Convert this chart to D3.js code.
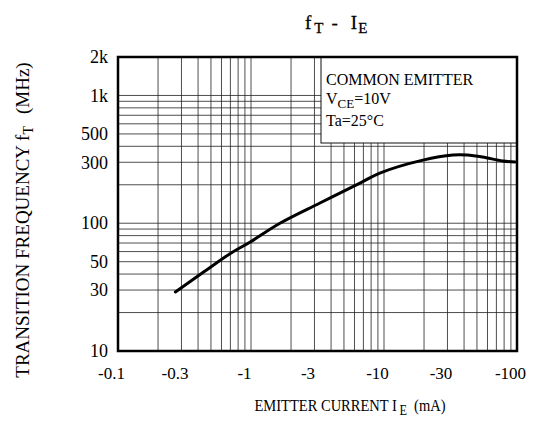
<!DOCTYPE html>
<html>
<head>
<meta charset="utf-8">
<script src="https://cdn.jsdelivr.net/npm/d3@7"></script>
<style>
  body { margin: 0; background: #fff; }
  svg text { font-family: "Liberation Serif", "Times New Roman", serif; fill: #000; }
</style>
</head>
<body>
<div id="chart"></div>
<script>
// emitter current magnitude (mA, plotted as negative) vs transition frequency (MHz)
var current = [0.27, 0.44, 0.7, 0.98, 1.65, 3.3, 6.6, 9.3, 19.6, 33, 42, 55, 78, 97];
var freq    = [29, 41.5, 58, 71, 100, 144, 206, 247, 312, 342, 342, 330, 307, 302];

var xTicks = [0.1, 0.3, 1, 3, 10, 30, 100];
var xTickLabels = ["-0.1", "-0.3", "-1", "-3", "-10", "-30", "-100"];
var yTicks = [10, 30, 50, 100, 300, 500, 1000, 2000];
var yTickLabels = ["10", "30", "50", "100", "300", "500", "1k", "2k"];

var legendLines = ["COMMON EMITTER", "VCE=10V", "Ta=25\u00B0C"];

var width = 536,
    height = 425,
    plotL = 118, plotR = 517, plotT = 57, plotB = 351;

var svg = d3.select('#chart').append('svg')
    .attr('width', width)
    .attr('height', height);

var x = d3.scaleLog().domain([0.1, 100]).range([plotL, plotR]);
var y = d3.scaleLog().domain([10, 2000]).range([plotB, plotT]);

// log grid values: 1..9 in every decade
function decades(lo, hi) {
    var out = [];
    for (var p = lo; p < hi; p *= 10) {
        for (var m = 1; m < 10; m++) out.push(+(m * p).toPrecision(3));
    }
    out.push(hi);
    return out;
}

var grid = svg.append('g').attr('class', 'grid')
    .attr('stroke', '#222')
    .attr('stroke-width', 0.8);

grid.selectAll('line.v')
    .data(decades(0.1, 100))
    .enter().append('line')
    .attr('class', 'v')
    .attr('x1', function(d) { return x(d); })
    .attr('x2', function(d) { return x(d); })
    .attr('y1', plotT)
    .attr('y2', plotB);

grid.selectAll('line.h')
    .data(decades(10, 1000))
    .enter().append('line')
    .attr('class', 'h')
    .attr('x1', plotL)
    .attr('x2', plotR)
    .attr('y1', function(d) { return y(d); })
    .attr('y2', function(d) { return y(d); });

// legend box over the grid
var lgX = 321, lgY = plotT, lgW = plotR - lgX, lgH = 86;
svg.append('rect')
    .attr('x', lgX)
    .attr('y', lgY)
    .attr('width', lgW)
    .attr('height', lgH)
    .attr('fill', '#fff')
    .attr('stroke', '#111')
    .attr('stroke-width', 1);

var lg = svg.append('g').attr('font-size', 16);
lg.append('text').attr('x', lgX + 5).attr('y', lgY + 28).text(legendLines[0]);
var vce = lg.append('text').attr('x', lgX + 5).attr('y', lgY + 47);
vce.append('tspan').text('V');
vce.append('tspan').attr('font-size', 13).attr('dy', 4).text('CE');
vce.append('tspan').attr('dy', -4).text('=10V');
lg.append('text').attr('x', lgX + 5).attr('y', lgY + 69).text(legendLines[2]);

// curve
var line = d3.line()
    .x(function(d) { return x(d[0]); })
    .y(function(d) { return y(d[1]); })
    .curve(d3.curveCatmullRom.alpha(0.5));

svg.append('path')
    .datum(d3.zip(current, freq))
    .attr('fill', 'none')
    .attr('stroke', '#000')
    .attr('stroke-width', 3)
    .attr('stroke-linecap', 'round')
    .attr('d', line);

// frame
svg.append('rect')
    .attr('x', plotL)
    .attr('y', plotT)
    .attr('width', plotR - plotL)
    .attr('height', plotB - plotT)
    .attr('fill', 'none')
    .attr('stroke', '#000')
    .attr('stroke-width', 2.5);

// axes (labels only)
var xAxis = svg.append('g')
    .attr('transform', 'translate(0,' + plotB + ')')
    .call(d3.axisBottom(x)
        .tickValues(xTicks)
        .tickSize(0)
        .tickPadding(16)
        .tickFormat(function(d, i) { return xTickLabels[i]; }));
xAxis.select('.domain').remove();
xAxis.selectAll('text')
    .attr('font-size', 17)
    .attr('dx', -7)
    .style('font-family', '"Liberation Serif", serif')
    .attr('fill', '#000');

var yAxis = svg.append('g')
    .attr('transform', 'translate(' + plotL + ',0)')
    .call(d3.axisLeft(y)
        .tickValues(yTicks)
        .tickSize(0)
        .tickPadding(10)
        .tickFormat(function(d, i) { return yTickLabels[i]; }));
yAxis.select('.domain').remove();
yAxis.selectAll('text')
    .attr('font-size', 18)
    .style('font-family', '"Liberation Serif", serif')
    .attr('fill', '#000');

// title
var title = svg.append('text')
    .attr('x', 305)
    .attr('y', 29)
    .attr('font-size', 19)
    .attr('stroke', '#000')
    .attr('stroke-width', 0.3);
title.append('tspan').text('f');
title.append('tspan').attr('font-size', 15).attr('dy', 4).attr('dx', 3).text('T');
title.append('tspan').attr('dy', -4).attr('dx', 8).text('-');
title.append('tspan').attr('dx', 13).text('I');
title.append('tspan').attr('font-size', 15).attr('dy', 4).attr('dx', 1).text('E');

// x axis label
var xl = svg.append('text')
    .attr('transform', 'translate(350,411) scale(0.88,1)')
    .attr('text-anchor', 'middle')
    .attr('font-size', 16.5);
xl.append('tspan').text('EMITTER CURRENT I');
xl.append('tspan').attr('font-size', 14).attr('dy', 4).attr('dx', 3).text('E');
xl.append('tspan').attr('dy', -4).attr('dx', 8).text('(mA)');

// y axis label
var yl = svg.append('text')
    .attr('transform', 'translate(29,220) rotate(-90)')
    .attr('text-anchor', 'middle')
    .attr('font-size', 19);
yl.append('tspan').text('TRANSITION FREQUENCY f');
yl.append('tspan').attr('font-size', 14).attr('dy', 4).text('T');
yl.append('tspan').attr('dy', -4).attr('dx', 12).text('(MHz)');
</script>
</body>
</html>
